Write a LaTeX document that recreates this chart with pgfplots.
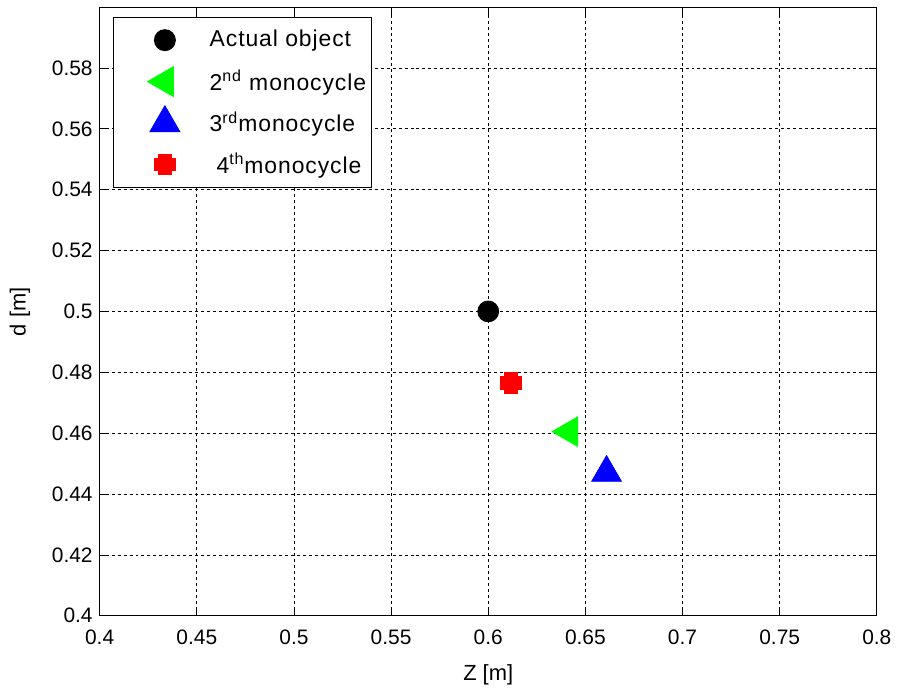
\documentclass[border=0pt]{standalone}
\usepackage{fontspec}
\setmainfont{Liberation Sans}
\newfontfamily\legfont[LetterSpace=4]{Liberation Sans}
\usepackage{pgfplots}
\pgfplotsset{compat=1.18}
\begin{document}
\begin{tikzpicture}
\path (-50pt,-36pt) rectangle (399pt,309pt);
\begin{axis}[
  at={(0,0)}, anchor=south west,
  scale only axis, width=390pt, height=305pt,
  xmin=0.4, xmax=0.8, ymin=0.4, ymax=0.5997,
  xtick={0.4,0.45,0.5,0.55,0.6,0.65,0.7,0.75,0.8},
  xticklabels={0.4,0.45,0.5,0.55,0.6,0.65,0.7,0.75,0.8},
  ytick={0.4,0.42,0.44,0.46,0.48,0.5,0.52,0.54,0.56,0.58},
  yticklabels={0.4,0.42,0.44,0.46,0.48,0.5,0.52,0.54,0.56,0.58},
  axis line style={line width=0.5pt},
  grid=major,
  major grid style={black, line width=0.4pt, dash pattern=on 1.5pt off 1.5pt},
  tick align=inside, major tick length=4pt,
  tick style={black, line width=0.4pt},
  tick label style={font=\fontsize{10.5}{12}\selectfont},
  xticklabel style={yshift=-3.5pt},
  xlabel={Z [m]}, ylabel={d [m]},
  label style={font=\fontsize{11}{13}\selectfont},
  xlabel style={at={(axis description cs:0.5,-0.097)}, anchor=center},
  ylabel style={at={(axis description cs:-0.1026,0.5)}, anchor=center},
  legend style={at={(axis description cs:0,1)}, anchor=north west,
    xshift=6.5pt, yshift=-4.5pt, draw=black, line width=0.5pt,
    font=\fontsize{11.5}{13}\legfont, inner xsep=2pt, inner ysep=1pt,
    nodes={inner sep=0.5pt}, cells={anchor=west}},
  legend cell align=left,
  legend image code/.code={\path[draw=none,fill=none] (0pt,-10.4pt) rectangle (46pt,10.4pt); \draw[#1] plot coordinates {(24pt,0pt)};},
]
\addplot[only marks, mark=*, mark size=5.25pt, mark options={fill=black, draw=black}]
  coordinates {(0.6,0.5)};
\addlegendentry{Actual object}
\addplot[only marks, mark=triangle*, mark size=8.6pt, mark options={rotate=90, fill=green, draw=green}]
  coordinates {(0.6417,0.4605)};
\addlegendentry{2\textsuperscript{nd} monocycle}
\addplot[only marks, mark=triangle*, mark size=8.6pt, mark options={fill=blue, draw=blue}]
  coordinates {(0.6609,0.447)};
\addlegendentry{3\textsuperscript{rd}monocycle}
\addplot[only marks, mark=+, mark size=5.5pt, mark options={draw=red, line width=7pt}]
  coordinates {(0.6116,0.4765)};
\addlegendentry{\hspace*{3.5pt}4\textsuperscript{th}monocycle}
\end{axis}
\end{tikzpicture}
\end{document}
